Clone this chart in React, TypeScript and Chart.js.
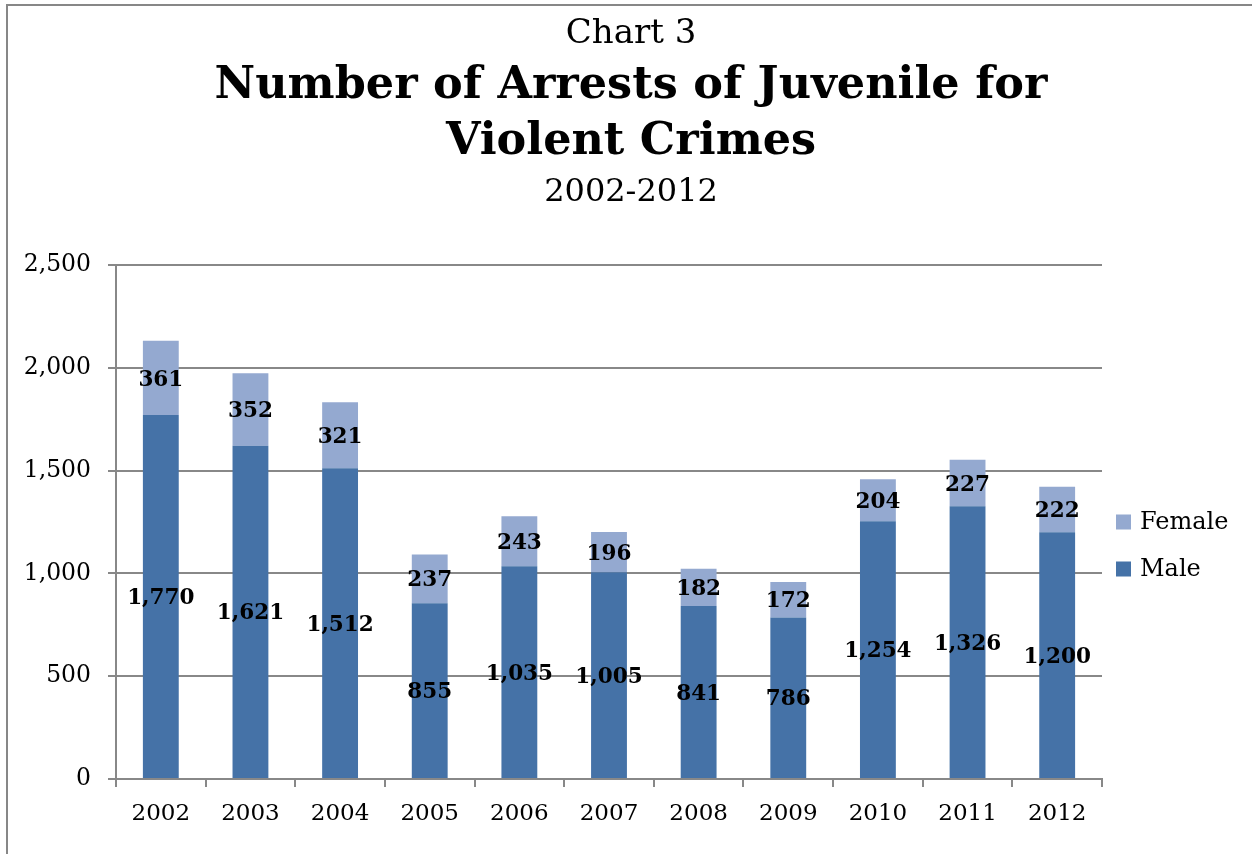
import React, { useEffect, useRef } from "react";
import { Chart, registerables } from "chart.js";

Chart.register(...registerables);

const years = ["2002", "2003", "2004", "2005", "2006", "2007", "2008", "2009", "2010", "2011", "2012"];
const maleValues = [1770, 1621, 1512, 855, 1035, 1005, 841, 786, 1254, 1326, 1200];
const femaleValues = [361, 352, 321, 237, 243, 196, 182, 172, 204, 227, 222];
const chartLabel = "Chart 3";
const titleLines = ["Number of Arrests of Juvenile for", "Violent Crimes"];
const subtitleText = "2002-2012";
const yMax = 2500;
const yStep = 500;

const SERIF = "'DejaVu Serif', 'Liberation Serif', serif";
const MALE_COLOR = "#4572A7";
const FEMALE_COLOR = "#94A9D0";
const GRID_COLOR = "#888888";

const fmt = (v: number) => v.toLocaleString("en-US");

const framePlugin = {
  id: "frame",
  beforeDraw(chart: any) {
    const ctx = chart.ctx;
    ctx.save();
    ctx.fillStyle = "#ffffff";
    ctx.fillRect(0, 0, chart.width, chart.height);
    ctx.strokeStyle = "#878787";
    ctx.lineWidth = 2;
    ctx.beginPath();
    ctx.moveTo(7, chart.height + 2);
    ctx.lineTo(7, 5);
    ctx.lineTo(chart.width + 2, 5);
    ctx.stroke();
    ctx.restore();
  },
};

const titlesPlugin = {
  id: "titles",
  afterDraw(chart: any) {
    const ctx = chart.ctx;
    const cx = 631;
    ctx.save();
    ctx.fillStyle = "#000000";
    ctx.textAlign = "center";
    ctx.textBaseline = "middle";
    ctx.font = `normal 34px ${SERIF}`;
    ctx.fillText(chartLabel, cx, 34);
    ctx.font = `bold 44.5px ${SERIF}`;
    ctx.fillText(titleLines[0], cx, 86);
    ctx.fillText(titleLines[1], cx, 142);
    ctx.font = `normal 32px ${SERIF}`;
    ctx.fillText(subtitleText, cx, 193);
    ctx.restore();
  },
};

const dataLabelPlugin = {
  id: "dataLabels",
  afterDatasetsDraw(chart: any) {
    const ctx = chart.ctx;
    ctx.save();
    ctx.fillStyle = "#000000";
    ctx.textAlign = "center";
    ctx.textBaseline = "middle";
    ctx.font = `bold 21.5px ${SERIF}`;
    chart.data.datasets.forEach((ds: any, i: number) => {
      const meta = chart.getDatasetMeta(i);
      meta.data.forEach((bar: any, j: number) => {
        const p = bar.getProps(["x", "y", "base"], true);
        ctx.fillText(fmt(ds.data[j]), p.x, (p.y + p.base) / 2 + 2);
      });
    });
    ctx.restore();
  },
};

const legendPlugin = {
  id: "customLegend",
  afterDraw(chart: any) {
    const ctx = chart.ctx;
    const area = chart.chartArea;
    const x0 = area.right + 14;
    const y0 = 522;
    const gap = 47;
    const items = [...chart.data.datasets].reverse();
    ctx.save();
    ctx.textAlign = "left";
    ctx.textBaseline = "middle";
    ctx.font = `normal 24px ${SERIF}`;
    items.forEach((ds: any, k: number) => {
      const y = y0 + k * gap;
      ctx.fillStyle = ds.backgroundColor;
      ctx.fillRect(x0, y - 7.5, 15, 15);
      ctx.fillStyle = "#000000";
      ctx.fillText(ds.label, x0 + 24, y + 1);
    });
    ctx.restore();
  },
};

export default function App() {
  const ref = useRef<HTMLCanvasElement | null>(null);

  useEffect(() => {
    if (!ref.current) return;
    const chart = new Chart(ref.current, {
      type: "bar",
      data: {
        labels: years,
        datasets: [
          {
            label: "Male",
            data: maleValues,
            backgroundColor: MALE_COLOR,
            borderWidth: 0,
            categoryPercentage: 1,
            barPercentage: 0.4,
          },
          {
            label: "Female",
            data: femaleValues,
            backgroundColor: FEMALE_COLOR,
            borderWidth: 0,
            categoryPercentage: 1,
            barPercentage: 0.4,
          },
        ],
      },
      options: {
        responsive: false,
        animation: false,
        layout: { padding: { top: 265, right: 150, bottom: 0, left: 0 } },
        plugins: {
          legend: { display: false },
          title: { display: false },
          tooltip: { enabled: false },
        },
        scales: {
          x: {
            stacked: true,
            grid: {
              offset: true,
              drawOnChartArea: false,
              tickLength: 8,
              color: GRID_COLOR,
              lineWidth: 2,
            },
            border: { color: GRID_COLOR, width: 2 },
            ticks: {
              color: "#000000",
              font: { family: SERIF, size: 23 },
              padding: 13,
            },
            afterFit: (s: any) => {
              s.height = 75;
            },
          },
          y: {
            stacked: true,
            min: 0,
            max: yMax,
            ticks: {
              stepSize: yStep,
              color: "#000000",
              font: { family: SERIF, size: 23.5 },
              padding: 17,
              callback: (v: any) => fmt(Number(v)),
            },
            grid: {
              color: GRID_COLOR,
              lineWidth: 2,
              tickLength: 8,
            },
            border: { color: GRID_COLOR, width: 2 },
            afterFit: (s: any) => {
              s.width = 116;
            },
          },
        },
      },
      plugins: [framePlugin, titlesPlugin, dataLabelPlugin, legendPlugin],
    });
    return () => chart.destroy();
  }, []);

  return (
    <canvas
      ref={ref}
      width={1252}
      height={854}
      style={{ position: "fixed", left: 0, top: 0, display: "block" }}
    />
  );
}
